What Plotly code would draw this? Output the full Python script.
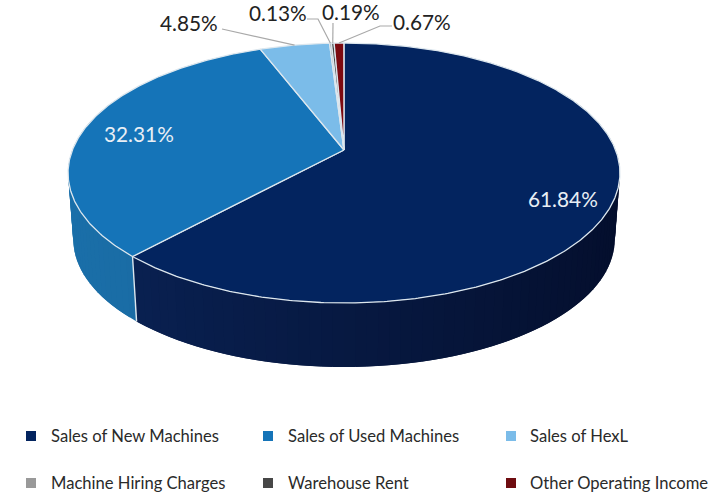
import numpy as np
import plotly.graph_objects as go

# Revenue mix, in percent
categories = ["Sales of New Machines", "Sales of Used Machines", "Sales of HexL",
              "Machine Hiring Charges", "Warehouse Rent", "Other Operating Income"]
shares = [61.84, 32.31, 4.85, 0.13, 0.19, 0.67]
top_colors = ["#03245f", "#1574b8", "#7bbce9", "#999999", "#474747", "#7c0a10"]
key_colors = ["#03245f", "#1574b8", "#7bbce9", "#999999", "#474747", "#6e0c10"]
inside_labels = {0: (563, 198), 1: (139, 133)}
outside_labels = {2: (189, 22), 3: (278, 12), 4: (351, 11), 5: (422, 21)}

FONT = "Lato"
RIM = "#dde7ee"
CX, CY, A, B, K = 344.0, 150.0, 271.6, 125.9, 0.1769
DEPTH, SHRINK = 67.0, 0.981


def project(theta_deg, shift=0.0, scale=1.0):
    """Perspective projection of a unit disc; angles run clockwise from 12 o'clock."""
    t = np.radians(theta_deg)
    u, v = np.sin(t), np.cos(t)
    d = 1 + K * v
    return CX + scale * A * u / d, CY + shift - scale * B * v / d


def lerp_hex(c0, c1, f):
    a = np.array([int(c0[i:i + 2], 16) for i in (1, 3, 5)])
    b = np.array([int(c1[i:i + 2], 16) for i in (1, 3, 5)])
    return "#%02x%02x%02x" % tuple(int(round(x)) for x in a + (b - a) * f)


edges = np.concatenate([[0], np.cumsum(shares)]) * 3.6
fig = go.Figure()


def poly(x, y, fill, line=None, width=0.0):
    fig.add_trace(go.Scatter(
        x=list(x), y=list(y), mode="lines", fill="toself", fillcolor=fill,
        line=dict(color=line or fill, width=width), hoverinfo="skip", showlegend=False))


# Side wall: overlapping strips shaded by horizontal position, painted right to left
wall_segments = [(60.0, edges[1], "#0a2458", "#040e2c"), (edges[1], 300.0, "#1a6fa9", "#175f92")]
STEP = 2.0
for start, stop, left_col, right_col in wall_segments:
    for s0 in np.arange(start, stop, STEP):
        s1 = min(s0 + STEP * 2, stop)
        th = np.linspace(s0, s1, 5)
        xt, yt = project(th)
        xb, yb = project(th[::-1], DEPTH, SHRINK)
        frac = float(np.clip((np.sin(np.radians(s0)) + 1) / 2, 0, 1))
        poly(np.r_[xt, xb, xt[0]], np.r_[yt, yb, yt[0]], lerp_hex(left_col, right_col, frac))

# Seam between the two visible wall segments
xs0, ys0 = project(edges[1])
xs1, ys1 = project(edges[1], DEPTH, SHRINK)
fig.add_trace(go.Scatter(x=[xs0, xs1], y=[ys0, ys1], mode="lines",
                         line=dict(color=RIM, width=1.4), hoverinfo="skip", showlegend=False))

# Top face
for i, color in enumerate(top_colors):
    th = np.linspace(edges[i], edges[i + 1], max(3, int((edges[i + 1] - edges[i]) * 2)))
    x, y = project(th)
    poly(np.r_[CX, x, CX], np.r_[CY, y, CY], color, RIM, 1.3)

# Leader lines from the rim to the outside labels
leaders = {2: [(222, 29)], 3: [(307, 19), (318, 19)], 4: [(333, 23)], 5: [(392, 26), (380, 26)]}
for i, pts in leaders.items():
    mx, my = project((edges[i] + edges[i + 1]) / 2)
    xs = [p[0] for p in pts] + [mx]
    ys = [p[1] for p in pts] + [my]
    fig.add_trace(go.Scatter(x=xs, y=ys, mode="lines", line=dict(color="#a9a9a9", width=1.2),
                             hoverinfo="skip", showlegend=False))

annotations = []
for i, (x, y) in {**inside_labels, **outside_labels}.items():
    annotations.append(dict(x=x, y=y, text=f"{shares[i]:.2f}%", showarrow=False,
                            font=dict(family=FONT, size=20.8,
                                      color="#e9eff5" if i in inside_labels else "#222222")))

# Legend keys on a three-column grid
key_x = [31, 268, 511]
text_x = [48.5, 286, 527.5]
row_y = [436, 483]
for i, name in enumerate(categories):
    c, r = i % 3, i // 3
    fig.add_trace(go.Scatter(x=[key_x[c]], y=[row_y[r]], mode="markers",
                             marker=dict(symbol="square", size=10, color=key_colors[i]),
                             name=name, hoverinfo="skip", showlegend=False))
    annotations.append(dict(x=text_x[c], y=row_y[r], text=name, showarrow=False, xanchor="left",
                            font=dict(family=FONT, size=16.6, color="#2a2a2a")))

fig.update_layout(
    width=725, height=496, margin=dict(l=0, r=0, t=0, b=0),
    paper_bgcolor="white", plot_bgcolor="white", annotations=annotations,
    xaxis=dict(range=[0, 725], visible=False, fixedrange=True),
    yaxis=dict(range=[496, 0], visible=False, fixedrange=True),
)
fig.write_html("out.html", config={"displayModeBar": False})
